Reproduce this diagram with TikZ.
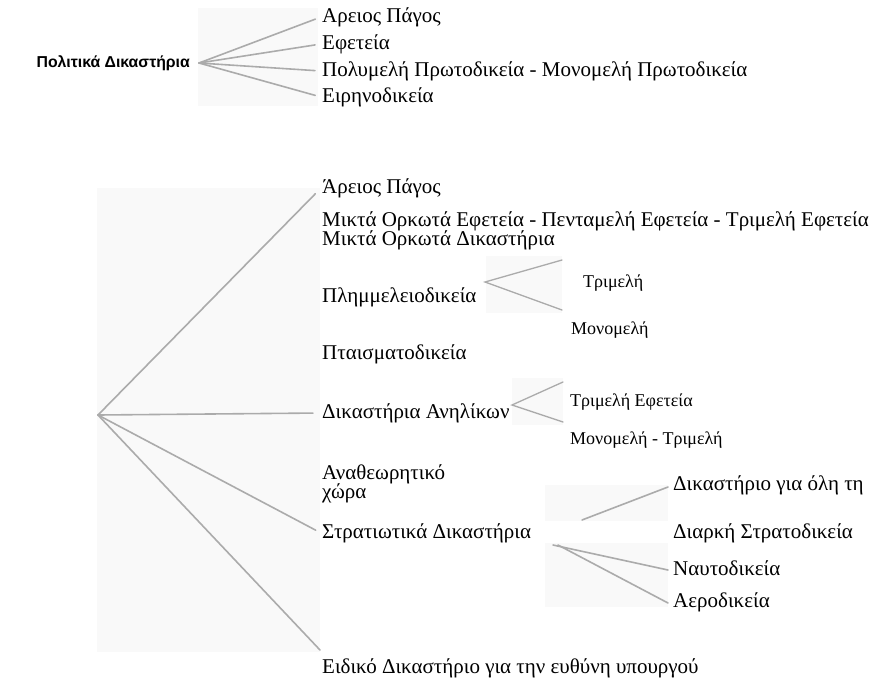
\documentclass[tikz,border=0pt]{standalone}
\usepackage{fontspec}
\setmainfont{Liberation Serif}
\newfontfamily\headfont{Liberation Sans}

\begin{document}
\begin{tikzpicture}[x=1pt, y=-1pt,
	branch/.style={draw=black!33, line width=1.6pt, line cap=round},
	court/.style={anchor=west, inner sep=1pt, align=left, font=\fontsize{21}{19.5}\selectfont},
	subcourt/.style={anchor=west, inner sep=1pt, font=\fontsize{18}{20}\selectfont},
	scan/.style={fill=black!2.5}]
	\useasboundingbox (0,0) rectangle (875,683);
	% faint patches of the scanned fans
	\fill [scan] (198,8) rectangle (318,106);
	\fill [scan] (97,188) rectangle (320,652);
	\fill [scan] (486,256) rectangle (562,313);
	\fill [scan] (512,378) rectangle (563,425);
	\fill [scan] (545,485) rectangle (668,521);
	\fill [scan] (545,543) rectangle (668,607);

	% civil courts
	\node [anchor=east, inner sep=1pt, font=\headfont\bfseries\fontsize{15.8}{17}\selectfont] (civil) at (191,63) {Πολιτικά Δικαστήρια};
	\coordinate (cv) at (199,63);
	\node [court] (cap) at (321,17) {Αρειος Πάγος};
	\node [court] (cef) at (321,44) {Εφετεία};
	\node [court] (cpr) at (321,71) {Πολυμελή Πρωτοδικεία - Μονομελή Πρωτοδικεία};
	\node [court] (cei) at (321,97) {Ειρηνοδικεία};
	\foreach \n in {cap,cef,cpr,cei}
		\draw [branch, shorten >=6pt] (cv) -- (\n.west);

	% criminal courts
	\coordinate (pv) at (98,415);
	\node [court] (pap) at (321,188) {Άρειος Πάγος};
	\node [court] (pmo) at (321,231) {Μικτά Ορκωτά Εφετεία - Πενταμελή Εφετεία - Τριμελή Εφετεία\\Μικτά Ορκωτά Δικαστήρια};
	\node [court] (ppl) at (321,297) {Πλημμελειοδικεία};
	\node [court] (ppt) at (321,354) {Πταισματοδικεία};
	\node [court] (pan) at (321,413) {Δικαστήρια Ανηλίκων};
	\node [court] (pana) at (321,484) {Αναθεωρητικό\\χώρα};
	\node [court] (pst) at (321,533) {Στρατιωτικά Δικαστήρια};
	\node [court] (pei) at (321,668) {Ειδικό Δικαστήριο για την ευθύνη υπουργού};
	\coordinate (plow) at (320,650);
	\draw [branch, shorten >=8pt] (pv) -- (pap.west);
	\draw [branch, shorten >=8pt] (pv) -- (pan.west);
	\draw [branch, shorten >=6pt] (pv) -- (pst.west);
	\draw [branch] (pv) -- (plow);

	% misdemeanour courts
	\coordinate (plv) at (485,282);
	\node [subcourt] (ptri) at (582,283) {Τριμελή};
	\node [subcourt] (pmon) at (570,330) {Μονομελή};
	\draw [branch, line width=1.3pt] (562,260) -- (plv) -- (562,310);

	% juvenile courts
	\coordinate (anv) at (512,405);
	\node [subcourt] (atri) at (569,402) {Τριμελή Εφετεία};
	\node [subcourt] (amon) at (569,440) {Μονομελή - Τριμελή};
	\draw [branch, line width=1.3pt] (563,382) -- (anv) -- (563,422);

	% military courts
	\node [court] (sdik) at (672,485) {Δικαστήριο για όλη τη};
	\node [court] (sdia) at (672,533) {Διαρκή Στρατοδικεία};
	\node [court] (snav) at (672,568) {Ναυτοδικεία};
	\node [court] (saer) at (672,602) {Αεροδικεία};
	\coordinate (sa) at (582,520);
	\coordinate (sb) at (553,545);
	\coordinate (sc) at (558,545);
	\draw [branch] (sa) -- ([xshift=-4pt,yshift=-2pt]sdik.west);
	\draw [branch] (sb) -- ([xshift=-4pt,yshift=-2pt]snav.west);
	\draw [branch] (sc) -- ([xshift=-4pt,yshift=-1pt]saer.west);
\end{tikzpicture}
\end{document}
